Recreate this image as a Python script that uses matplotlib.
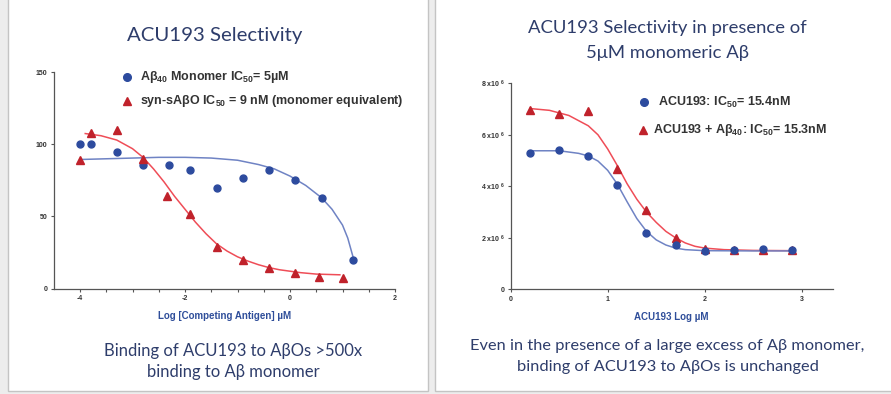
import matplotlib.pyplot as plt
from matplotlib.patches import Rectangle

# left panel: % binding vs log [competing antigen]
mono_x = [-4.0, -3.8, -3.3, -2.8, -2.3, -1.9, -1.4, -0.9, -0.4, 0.1, 0.6, 1.2]
mono_y = [100, 100.5, 94.5, 86, 86, 82, 70, 77, 82, 75, 63, 20]
olig_x = [-4.0, -3.8, -3.3, -2.8, -2.35, -1.9, -1.4, -0.9, -0.4, 0.1, 0.55, 1.0]
olig_y = [89, 108, 110, 90, 64, 52, 29, 20, 14.5, 11, 8, 7]

mono_fit_x = [-4.0, -3.5, -3.0, -2.5, -2.0, -1.5, -1.0, -0.6, -0.3, 0.0, 0.3, 0.6, 0.8, 1.0, 1.1, 1.2]
mono_fit_y = [89.5, 90, 90.5, 91, 91, 90.5, 89, 86, 83, 78, 71.5, 63, 55, 44, 35, 22]
olig_fit_x = [-3.9, -3.6, -3.3, -3.0, -2.8, -2.6, -2.4, -2.2, -2.0, -1.8, -1.6, -1.4, -1.2, -1.0,
              -0.8, -0.6, -0.4, -0.2, 0.0, 0.2, 0.5, 0.95]
olig_fit_y = [107.5, 106, 103, 97, 91, 83, 74, 64, 55, 46, 38, 31, 26, 22,
              19, 16.5, 14.5, 13, 12, 11, 10, 9.5]

# right panel: signal (x10^6) vs ACU193 log conc
acu_x = [0.2, 0.5, 0.8, 1.1, 1.4, 1.7, 2.0, 2.3, 2.6, 2.9]
acu_y = [5.28, 5.41, 5.19, 4.06, 2.19, 1.72, 1.49, 1.51, 1.55, 1.51]
acu_ab_y = [6.96, 6.81, 6.94, 4.66, 3.08, 2.0, 1.55, 1.52, 1.54, 1.52]

acu_fit_x = [0.2, 0.5, 0.7, 0.8, 0.9, 1.0, 1.1, 1.2, 1.3, 1.4, 1.5, 1.6, 1.7, 1.8, 2.0, 2.5, 2.9]
acu_fit_y = [5.38, 5.38, 5.28, 5.18, 4.98, 4.62, 4.08, 3.4, 2.75, 2.25, 1.92, 1.72, 1.6, 1.54, 1.5, 1.49, 1.49]
acu_ab_fit_x = [0.2, 0.4, 0.6, 0.8, 0.9, 1.0, 1.1, 1.2, 1.3, 1.4, 1.5, 1.6, 1.7, 1.8, 1.9, 2.0, 2.2, 2.5, 2.9]
acu_ab_fit_y = [7.02, 6.95, 6.75, 6.35, 6.0, 5.45, 4.8, 4.1, 3.5, 3.0, 2.6, 2.25, 2.0, 1.8, 1.67, 1.6, 1.54, 1.51, 1.5]

left_xticks = [-4, -2, 0, 2]
right_yticks = [0, 2, 4, 6, 8]

NAVY = "#2e3d6b"
BLUE_PT = "#2d4b9e"
BLUE_LN = "#6f83c4"
RED_PT = "#c0222b"
RED_LN = "#ef4d57"
AX = "#555555"

plt.rcParams["mathtext.fontset"] = "custom"
plt.rcParams["mathtext.rm"] = "Liberation Sans:bold"
plt.rcParams["mathtext.it"] = "Liberation Sans:bold"
plt.rcParams["mathtext.bf"] = "Liberation Sans:bold"

fig = plt.figure(figsize=(8.91, 3.94), dpi=100)
fig.patch.set_facecolor("#ededed")

W, H = 891.0, 394.0
def card(x0, y0, x1, y1):
    fig.patches.append(Rectangle((x0 / W, 1 - y1 / H), (x1 - x0) / W, (y1 - y0) / H,
                                 transform=fig.transFigure, facecolor="white",
                                 edgecolor="#c4c4c4", lw=1.0, zorder=-5))
card(8, -5, 428, 391)
card(435, -5, 900, 391)

TITLE_FONT = ["Lato", "DejaVu Sans"]
fig.text(215 / W, 1 - 36 / H, "ACU193 Selectivity", ha="center", va="center",
         fontsize=14.7, color=NAVY, family=TITLE_FONT)
fig.text(667 / W, 1 - 28 / H, "ACU193 Selectivity in presence of", ha="center", va="center",
         fontsize=13.3, color=NAVY, family=TITLE_FONT)
fig.text(667 / W, 1 - 53 / H, "5μM monomeric Aβ", ha="center", va="center",
         fontsize=13.3, color=NAVY, family=TITLE_FONT)
fig.text(233 / W, 1 - 351 / H, "Binding of ACU193 to AβOs >500x", ha="center", va="center",
         fontsize=12, color=NAVY, family=TITLE_FONT)
fig.text(233 / W, 1 - 372 / H, "binding to Aβ monomer", ha="center", va="center",
         fontsize=12, color=NAVY, family=TITLE_FONT)
fig.text(667.5 / W, 1 - 346 / H, "Even in the presence of a large excess of Aβ monomer,", ha="center",
         va="center", fontsize=11.8, color=NAVY, family=TITLE_FONT)
fig.text(667.5 / W, 1 - 367 / H, "binding of ACU193 to AβOs is unchanged", ha="center", va="center",
         fontsize=11.8, color=NAVY, family=TITLE_FONT)

def style(ax):
    for s in ["top", "right"]:
        ax.spines[s].set_visible(False)
    for s in ["left", "bottom"]:
        ax.spines[s].set_color(AX)
        ax.spines[s].set_linewidth(0.9)
    ax.tick_params(length=2.5, width=0.8, color=AX, labelsize=5, labelcolor="#333333", pad=2)
    for lab in ax.get_xticklabels() + ax.get_yticklabels():
        lab.set_fontweight("bold")
        lab.set_family("Liberation Sans")
    ax.patch.set_alpha(0)

# left chart
ax1 = fig.add_axes([53.75 / W, 1 - 288.5 / H, (395 - 53.75) / W, (288.5 - 72.3) / H])
ax1.plot(mono_fit_x, mono_fit_y, color=BLUE_LN, lw=1.1, zorder=2)
ax1.plot(olig_fit_x, olig_fit_y, color=RED_LN, lw=1.1, zorder=2)
ax1.plot(mono_x, mono_y, "o", color=BLUE_PT, ms=5, zorder=3)
ax1.plot(olig_x, olig_y, "^", color=RED_PT, ms=5.5, zorder=3)
ax1.set_xlim(-4.5, 2.0)
ax1.set_ylim(0, 150)
ax1.set_yticks([0, 50, 100, 150])
half_steps = [-4 + 0.5 * i for i in range(13)]
ax1.set_xticks(half_steps)
ax1.set_xticklabels(["%d" % v if v in left_xticks else "" for v in half_steps])
style(ax1)
ax1.set_xlabel("Log [Competing Antigen] µM", fontsize=7, fontweight="bold", color="#2f4e9a",
               family="Liberation Sans", labelpad=7)
ax1.plot([-3.1], [147], "o", color=BLUE_PT, ms=5.5, clip_on=False)
ax1.plot([-3.1], [130], "^", color=RED_PT, ms=5.5, clip_on=False)
ax1.text(-2.86, 147, "Aβ$_{40}$ Monomer IC$_{50}$= 5µM", fontsize=9, fontweight="bold",
         color="#333333", family="Liberation Sans", va="center")
ax1.text(-2.86, 130, "syn-sAβO IC$_{50}$ = 9 nM (monomer equivalent)", fontsize=9,
         fontweight="bold", color="#333333", family="Liberation Sans", va="center")

# right chart
ax2 = fig.add_axes([510.7 / W, 1 - 289.3 / H, (832.7 - 510.7) / W, (289.3 - 83.3) / H])
ax2.plot(acu_ab_fit_x, acu_ab_fit_y, color=RED_LN, lw=1.1, zorder=2)
ax2.plot(acu_fit_x, acu_fit_y, color=BLUE_LN, lw=1.1, zorder=2)
ax2.plot(acu_x, acu_ab_y, "^", color=RED_PT, ms=5.5, zorder=3)
ax2.plot(acu_x, acu_y, "o", color=BLUE_PT, ms=5, zorder=4)
ax2.set_xlim(0, 3.32)
ax2.set_ylim(0, 8)
ax2.set_xticks([0, 1, 2, 3])
ax2.set_yticks(right_yticks)
ax2.set_yticklabels(["0" if v == 0 else r"%d x10$^{\ 6}$" % v for v in right_yticks])
style(ax2)
ax2.set_xlabel("ACU193 Log µM", fontsize=7, fontweight="bold", color="#2f4e9a",
               family="Liberation Sans", labelpad=7)
ax2.plot([1.374], [7.27], "o", color=BLUE_PT, ms=5.5, clip_on=False)
ax2.plot([1.365], [6.19], "^", color=RED_PT, ms=5.5, clip_on=False)
ax2.text(1.52, 7.27, "ACU193: IC$_{50}$= 15.4nM", fontsize=9, fontweight="bold",
         color="#333333", family="Liberation Sans", va="center")
ax2.text(1.47, 6.19, "ACU193 + Aβ$_{40}$: IC$_{50}$= 15.3nM", fontsize=9, fontweight="bold",
         color="#333333", family="Liberation Sans", va="center")

fig.savefig("out.png", dpi=100, facecolor=fig.get_facecolor())
